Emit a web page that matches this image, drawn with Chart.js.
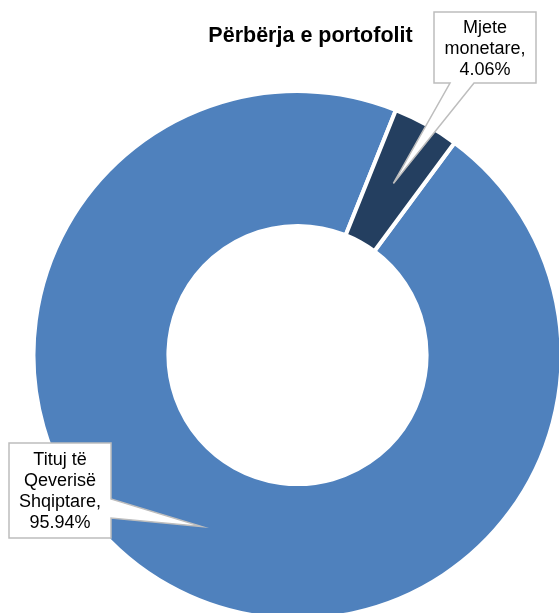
<!DOCTYPE html>
<html>
<head>
<meta charset="utf-8">
<script src="https://cdn.jsdelivr.net/npm/chart.js@4.4.1/dist/chart.umd.min.js"></script>
<style>
  html, body { margin: 0; padding: 0; background: #fff; overflow: hidden; }
  #wrap { position: relative; width: 559px; height: 613px; }
  canvas { display: block; }
</style>
</head>
<body>
<div id="wrap"><canvas id="c" width="559" height="613"></canvas></div>
<script>
const chartTitle = "Përbërja e portofolit";
const categories = ["Tituj të Qeverisë Shqiptare", "Mjete monetare"];
const shares = [95.94, 4.06];
const sliceColors = ["#4F81BD", "#243F60"];

// callout boxes (layout only): [left, top, right, bottom] and pointer base
const callouts = [
  { box: [9, 443, 111, 538], side: "right", base: [499, 518] },
  { box: [434, 12, 536, 83], side: "bottom", base: [474, 450] }
];

const FONT = '"Liberation Sans", Arial, sans-serif';

function wrapWords(ctx, text, maxW) {
  const words = text.split(" ");
  const lines = [];
  let cur = "";
  for (const w of words) {
    const t = cur ? cur + " " + w : w;
    if (cur && ctx.measureText(t).width > maxW) { lines.push(cur); cur = w; }
    else cur = t;
  }
  if (cur) lines.push(cur);
  return lines;
}

const calloutPlugin = {
  id: "callouts",
  afterDraw(chart) {
    const ctx = chart.ctx;
    ctx.save();
    // title
    ctx.font = "bold 21.5px " + FONT;
    ctx.fillStyle = "#000";
    ctx.textAlign = "center";
    ctx.textBaseline = "alphabetic";
    ctx.fillText(chartTitle, 310.5, 42.3);

    const meta = chart.getDatasetMeta(0);
    meta.data.forEach((arc, i) => {
      const c = callouts[i];
      const tip = arc.tooltipPosition();
      const [l, t, r, b] = c.box;
      ctx.beginPath();
      ctx.moveTo(l, t);
      ctx.lineTo(r, t);
      if (c.side === "right") {
        ctx.lineTo(r, c.base[0]);
        ctx.lineTo(tip.x, tip.y);
        ctx.lineTo(r, c.base[1]);
        ctx.lineTo(r, b);
        ctx.lineTo(l, b);
      } else {
        ctx.lineTo(r, b);
        ctx.lineTo(c.base[0], b);
        ctx.lineTo(tip.x, tip.y);
        ctx.lineTo(c.base[1], b);
        ctx.lineTo(l, b);
      }
      ctx.closePath();
      ctx.fillStyle = "#fff";
      ctx.fill();
      ctx.lineWidth = 1.5;
      ctx.strokeStyle = "#BDBDBD";
      ctx.lineJoin = "miter";
      ctx.stroke();

      ctx.font = "18px " + FONT;
      ctx.fillStyle = "#000";
      ctx.textAlign = "center";
      const text = categories[i] + ", " + shares[i].toFixed(2) + "%";
      const lines = wrapWords(ctx, text, 92);
      const lh = 21;
      const cx = (l + r) / 2;
      const cy = (t + b) / 2;
      const first = cy - (lines.length - 1) * lh / 2 + 6.4;
      lines.forEach((ln, k) => ctx.fillText(ln, cx, first + k * lh));
    });
    ctx.restore();
  }
};

new Chart(document.getElementById("c"), {
  type: "doughnut",
  data: {
    labels: categories,
    datasets: [{
      data: shares,
      backgroundColor: sliceColors,
      borderColor: "#FFFFFF",
      borderWidth: 4,
      hoverOffset: 0
    }]
  },
  options: {
    responsive: false,
    animation: false,
    devicePixelRatio: 1,
    rotation: 36.5,
    radius: 264,
    cutout: "48.9%",
    layout: { padding: { left: 36, right: 0, top: 97, bottom: 0 } },
    plugins: {
      legend: { display: false },
      title: { display: false },
      tooltip: { enabled: false }
    }
  },
  plugins: [calloutPlugin]
});
</script>
</body>
</html>
